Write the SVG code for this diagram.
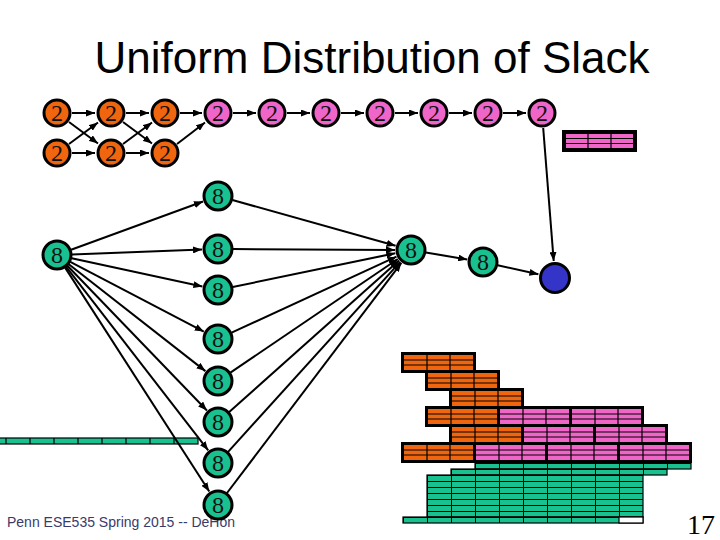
<svg xmlns="http://www.w3.org/2000/svg" xmlns:xlink="http://www.w3.org/1999/xlink" width="720" height="540" viewBox="0 0 720 540">
<style>
.o{fill:#f0660f}
.p{fill:#f065c8}
.g{fill:#19c190}
.b{fill:#3434c8}
.nd{stroke:#000;stroke-width:3}
.lb{font-family:"Liberation Serif","Times New Roman",serif;font-size:24px;text-anchor:middle;fill:#111}
.e{stroke:#000;stroke-width:2;fill:none;marker-end:url(#ah)}
.grid{stroke:#000;stroke-width:1.2;fill:none}
.title{font-family:"Liberation Sans",Arial,sans-serif;font-size:44px;text-anchor:middle;fill:#000}
.foot{font-family:"Liberation Sans",Arial,sans-serif;font-size:14px;fill:#3a3a6a}
.pg{font-family:"Liberation Serif","Times New Roman",serif;font-size:28px;fill:#000}
</style>
<defs>
<marker id="ah" markerUnits="userSpaceOnUse" markerWidth="9" markerHeight="7" refX="9" refY="3.5" orient="auto">
<path d="M0,0 L9,3.5 L0,7 z" fill="#000"/>
</marker>
<g id="blkO"><rect width="69" height="15" class="o"/><path d="M0,5H69M0,10H69M23,0V15M46,0V15" class="grid"/></g>
<g id="blkP"><rect width="69" height="15" class="p"/><path d="M0,5H69M0,10H69M23,0V15M46,0V15" class="grid"/></g>
<pattern id="gp" patternUnits="userSpaceOnUse" x="403" y="463" width="24" height="6">
<rect width="24" height="6" fill="#19c190"/>
<path d="M0.5,0V6M0,0.5H24" stroke="#000" stroke-width="1"/>
</pattern>
</defs>

<rect width="720" height="540" fill="#fff"/>
<text class="title" x="372" y="73">Uniform Distribution of Slack</text>
<text class="foot" x="7" y="527">Penn ESE535 Spring 2015 -- DeHon</text>
<text class="pg" x="687" y="534">17</text>

<g id="pinkbar">
<rect x="562" y="130" width="75" height="22" fill="#000"/>
<rect x="566" y="134" width="67" height="14" class="p"/>
<path d="M566,138.5H633M566,143.5H633M588,134V148M611,134V148" class="grid"/>
</g>

<g id="leftbar">
<rect x="-20" y="438" width="218" height="6" class="g" stroke="#000" stroke-width="1.2"/>
<path d="M6,438V444M30,438V444M54,438V444M78,438V444M102,438V444M126,438V444M150,438V444M174,438V444" class="grid"/>
</g>

<g id="stack">
<rect x="401" y="352" width="75" height="21" fill="#000"/>
<use xlink:href="#blkO" x="404" y="355"/>
<rect x="425" y="370" width="75" height="21" fill="#000"/>
<use xlink:href="#blkO" x="428" y="373"/>
<rect x="449" y="388" width="75" height="21" fill="#000"/>
<use xlink:href="#blkO" x="452" y="391"/>
<rect x="425" y="406" width="219" height="21" fill="#000"/>
<use xlink:href="#blkO" x="428" y="409"/>
<use xlink:href="#blkP" x="500" y="409"/>
<use xlink:href="#blkP" x="572" y="409"/>
<rect x="449" y="424" width="219" height="21" fill="#000"/>
<use xlink:href="#blkO" x="452" y="427"/>
<use xlink:href="#blkP" x="524" y="427"/>
<use xlink:href="#blkP" x="596" y="427"/>
<rect x="401" y="442" width="291" height="21" fill="#000"/>
<use xlink:href="#blkO" x="404" y="445"/>
<use xlink:href="#blkP" x="476" y="445"/>
<use xlink:href="#blkP" x="548" y="445"/>
<use xlink:href="#blkP" x="620" y="445"/>
</g>

<g id="greengrid" stroke="#000" stroke-width="1.2">
<rect x="475" y="463" width="216" height="6" fill="url(#gp)"/>
<rect x="451" y="469" width="216" height="6" fill="url(#gp)"/>
<rect x="427" y="475" width="216" height="42" fill="url(#gp)"/>
<rect x="403" y="517" width="240" height="6" fill="url(#gp)"/>
<rect x="619" y="517" width="24" height="6" fill="#fff"/>
</g>

<g id="connectors">
<line class="e" x1="72" y1="113" x2="95" y2="113"/>
<line class="e" x1="69" y1="122" x2="98" y2="143.5"/>
<line class="e" x1="69" y1="144" x2="98" y2="122.5"/>
<line class="e" x1="72" y1="153" x2="95" y2="153"/>
<line class="e" x1="126" y1="113" x2="149" y2="113"/>
<line class="e" x1="123" y1="122" x2="152" y2="143.5"/>
<line class="e" x1="123" y1="144" x2="152" y2="122.5"/>
<line class="e" x1="126" y1="153" x2="149" y2="153"/>
<line class="e" x1="180" y1="113" x2="202" y2="113"/>
<line class="e" x1="177" y1="144" x2="205" y2="122.5"/>
<line class="e" x1="233" y1="113" x2="256" y2="113"/>
<line class="e" x1="287" y1="113" x2="310" y2="113"/>
<line class="e" x1="341" y1="113" x2="364" y2="113"/>
<line class="e" x1="395" y1="113" x2="418" y2="113"/>
<line class="e" x1="449" y1="113" x2="472" y2="113"/>
<line class="e" x1="503" y1="113" x2="526" y2="113"/>
<line class="e" x1="543.2" y1="128" x2="553.7" y2="261"/>

<line class="e" x1="71.1" y1="249.8" x2="203" y2="201.5"/>
<line class="e" x1="72" y1="254.4" x2="202" y2="249.6"/>
<line class="e" x1="71.7" y1="258.2" x2="202.4" y2="286.6"/>
<line class="e" x1="70.3" y1="261.9" x2="203.8" y2="331.6"/>
<line class="e" x1="68.8" y1="264.2" x2="205.4" y2="371.1"/>
<line class="e" x1="67.4" y1="265.8" x2="206.9" y2="410.5"/>
<line class="e" x1="66.2" y1="266.9" x2="208.2" y2="450.3"/>
<line class="e" x1="65.1" y1="267.6" x2="209.3" y2="491.5"/>

<line class="e" x1="232.4" y1="200" x2="395.6" y2="245.7"/>
<line class="e" x1="233" y1="249.1" x2="395" y2="249.9"/>
<line class="e" x1="232.7" y1="287" x2="395.3" y2="253.2"/>
<line class="e" x1="231.6" y1="332.7" x2="396.5" y2="256.7"/>
<line class="e" x1="230.4" y1="372.6" x2="397.8" y2="259"/>
<line class="e" x1="229.2" y1="412" x2="399" y2="260.6"/>
<line class="e" x1="228.1" y1="451.9" x2="400.2" y2="261.9"/>
<line class="e" x1="227" y1="493" x2="401.4" y2="262.8"/>

<line class="e" x1="425.8" y1="252.5" x2="467.2" y2="259.4"/>
<line class="e" x1="497.6" y1="265.3" x2="538.4" y2="274.3"/>
</g>

<g id="A1"><circle class="nd o" cx="57" cy="113" r="13"/><text class="lb" x="57" y="121">2</text></g>
<g id="A2"><circle class="nd o" cx="111" cy="113" r="13"/><text class="lb" x="111" y="121">2</text></g>
<g id="A3"><circle class="nd o" cx="165" cy="113" r="13"/><text class="lb" x="165" y="121">2</text></g>
<g id="B1"><circle class="nd o" cx="57" cy="153" r="13"/><text class="lb" x="57" y="161">2</text></g>
<g id="B2"><circle class="nd o" cx="111" cy="153" r="13"/><text class="lb" x="111" y="161">2</text></g>
<g id="B3"><circle class="nd o" cx="165" cy="153" r="13"/><text class="lb" x="165" y="161">2</text></g>
<g id="P1"><circle class="nd p" cx="218" cy="113" r="13"/><text class="lb" x="218" y="121">2</text></g>
<g id="P2"><circle class="nd p" cx="272" cy="113" r="13"/><text class="lb" x="272" y="121">2</text></g>
<g id="P3"><circle class="nd p" cx="326" cy="113" r="13"/><text class="lb" x="326" y="121">2</text></g>
<g id="P4"><circle class="nd p" cx="380" cy="113" r="13"/><text class="lb" x="380" y="121">2</text></g>
<g id="P5"><circle class="nd p" cx="434" cy="113" r="13"/><text class="lb" x="434" y="121">2</text></g>
<g id="P6"><circle class="nd p" cx="488" cy="113" r="13"/><text class="lb" x="488" y="121">2</text></g>
<g id="P7"><circle class="nd p" cx="542" cy="113" r="13"/><text class="lb" x="542" y="121">2</text></g>

<g id="L"><circle class="nd g" cx="57" cy="255" r="14"/><text class="lb" x="57" y="263">8</text></g>
<g id="C1"><circle class="nd g" cx="218" cy="196" r="14"/><text class="lb" x="218" y="204">8</text></g>
<g id="C2"><circle class="nd g" cx="218" cy="249" r="14"/><text class="lb" x="218" y="257">8</text></g>
<g id="C3"><circle class="nd g" cx="218" cy="290" r="14"/><text class="lb" x="218" y="298">8</text></g>
<g id="C4"><circle class="nd g" cx="218" cy="339" r="14"/><text class="lb" x="218" y="347">8</text></g>
<g id="C5"><circle class="nd g" cx="218" cy="381" r="14"/><text class="lb" x="218" y="389">8</text></g>
<g id="C6"><circle class="nd g" cx="218" cy="422" r="14"/><text class="lb" x="218" y="430">8</text></g>
<g id="C7"><circle class="nd g" cx="218" cy="463" r="14"/><text class="lb" x="218" y="471">8</text></g>
<g id="C8"><circle class="nd g" cx="218" cy="505" r="14"/><text class="lb" x="218" y="513">8</text></g>
<g id="G"><circle class="nd g" cx="411" cy="250" r="14"/><text class="lb" x="411" y="258">8</text></g>
<g id="H"><circle class="nd g" cx="483" cy="262" r="14"/><text class="lb" x="483" y="270">8</text></g>
<g id="Z"><circle class="nd b" cx="555" cy="278" r="14.5"/></g>
</svg>
